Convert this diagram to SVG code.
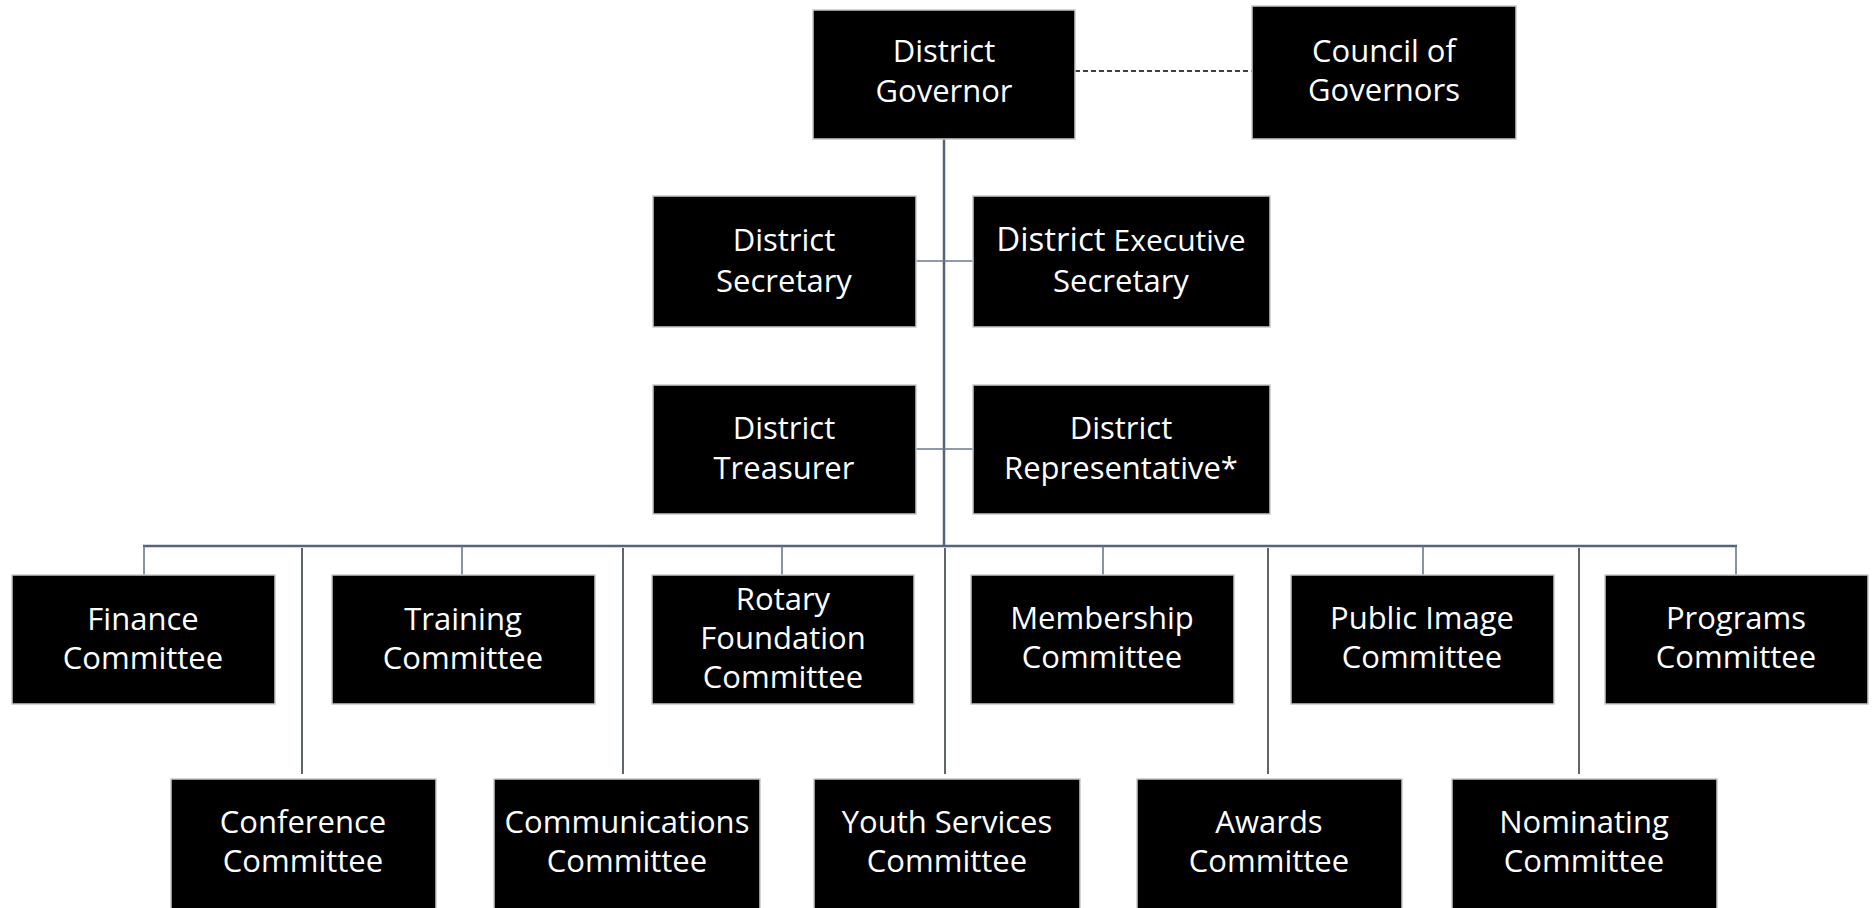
<svg xmlns="http://www.w3.org/2000/svg" width="1874" height="908" viewBox="0 0 1874 908">
<style>
.box{fill:#000;stroke:#c8c8c8;stroke-width:1.5}
.t{font-family:"Open Sans","Noto Sans",sans-serif;font-size:31px;fill:#fff;text-anchor:middle}
.big{font-size:33px}
.sm{font-size:30px}
.trunk{stroke:#56657a;stroke-width:2.5;fill:none}
.drop{stroke:#6a7a8e;stroke-width:1.6;fill:none}
.long{stroke:#3a3f48;stroke-width:1.6;fill:none}
.dash{stroke:#000;stroke-width:1.5;stroke-dasharray:5 3;fill:none}
</style>
<rect width="1874" height="908" fill="#fff"/>
<g id="connectors">
<line class="dash" x1="1075" y1="71" x2="1252" y2="71"/>
<line class="trunk" x1="944" y1="139" x2="944" y2="546"/>
<line class="drop" x1="916" y1="261" x2="973" y2="261"/>
<line class="drop" x1="916" y1="449" x2="973" y2="449"/>
<line class="trunk" x1="143" y1="546" x2="1737" y2="546"/>
<path class="drop" d="M144 546V575M462 546V575M782 546V575M1103 546V575M1423 546V575M1736 546V575"/>
<path class="long" d="M302 548V774M623 548V774M945 548V774M1268 548V774M1579 548V774"/>
</g>
<g id="district-governor"><rect class="box" x="813" y="10" width="262" height="129"/><text class="t" x="944" y="62">District</text><text class="t" x="944" y="102">Governor</text></g>
<g id="council-of-governors"><rect class="box" x="1252" y="6" width="264" height="133"/><text class="t" x="1384" y="62">Council of</text><text class="t" x="1384" y="101">Governors</text></g>
<g id="district-secretary"><rect class="box" x="653" y="196" width="263" height="131"/><text class="t" x="784" y="251">District</text><text class="t" x="784" y="292">Secretary</text></g>
<g id="district-executive-secretary"><rect class="box" x="973" y="196" width="297" height="131"/><text class="t" x="1121" y="251"><tspan class="big">District</tspan> <tspan class="sm">Executive</tspan></text><text class="t" x="1121" y="292">Secretary</text></g>
<g id="district-treasurer"><rect class="box" x="653" y="385" width="263" height="129"/><text class="t" x="784" y="439">District</text><text class="t" x="784" y="479">Treasurer</text></g>
<g id="district-representative"><rect class="box" x="973" y="385" width="297" height="129"/><text class="t" x="1121" y="439">District</text><text class="t" x="1121" y="479">Representative*</text></g>
<g id="finance-committee"><rect class="box" x="12" y="575" width="263" height="129"/><text class="t" x="143" y="630">Finance</text><text class="t" x="143" y="669">Committee</text></g>
<g id="training-committee"><rect class="box" x="332" y="575" width="263" height="129"/><text class="t" x="463" y="630">Training</text><text class="t" x="463" y="669">Committee</text></g>
<g id="rotary-foundation-committee"><rect class="box" x="652" y="575" width="262" height="129"/><text class="t" x="783" y="610">Rotary</text><text class="t" x="783" y="649">Foundation</text><text class="t" x="783" y="688">Committee</text></g>
<g id="membership-committee"><rect class="box" x="971" y="575" width="263" height="129"/><text class="t" x="1102" y="629">Membership</text><text class="t" x="1102" y="668">Committee</text></g>
<g id="public-image-committee"><rect class="box" x="1291" y="575" width="263" height="129"/><text class="t" x="1422" y="629">Public Image</text><text class="t" x="1422" y="668">Committee</text></g>
<g id="programs-committee"><rect class="box" x="1605" y="575" width="263" height="129"/><text class="t" x="1736" y="629">Programs</text><text class="t" x="1736" y="668">Committee</text></g>
<g id="conference-committee"><rect class="box" x="171" y="779" width="265" height="132"/><text class="t" x="303" y="833">Conference</text><text class="t" x="303" y="872">Committee</text></g>
<g id="communications-committee"><rect class="box" x="494" y="779" width="266" height="132"/><text class="t" x="627" y="833">Communications</text><text class="t" x="627" y="872">Committee</text></g>
<g id="youth-services-committee"><rect class="box" x="814" y="779" width="266" height="132"/><text class="t" x="947" y="833">Youth Services</text><text class="t" x="947" y="872">Committee</text></g>
<g id="awards-committee"><rect class="box" x="1137" y="779" width="265" height="132"/><text class="t" x="1269" y="833">Awards</text><text class="t" x="1269" y="872">Committee</text></g>
<g id="nominating-committee"><rect class="box" x="1452" y="779" width="265" height="132"/><text class="t" x="1584" y="833">Nominating</text><text class="t" x="1584" y="872">Committee</text></g>
</svg>
